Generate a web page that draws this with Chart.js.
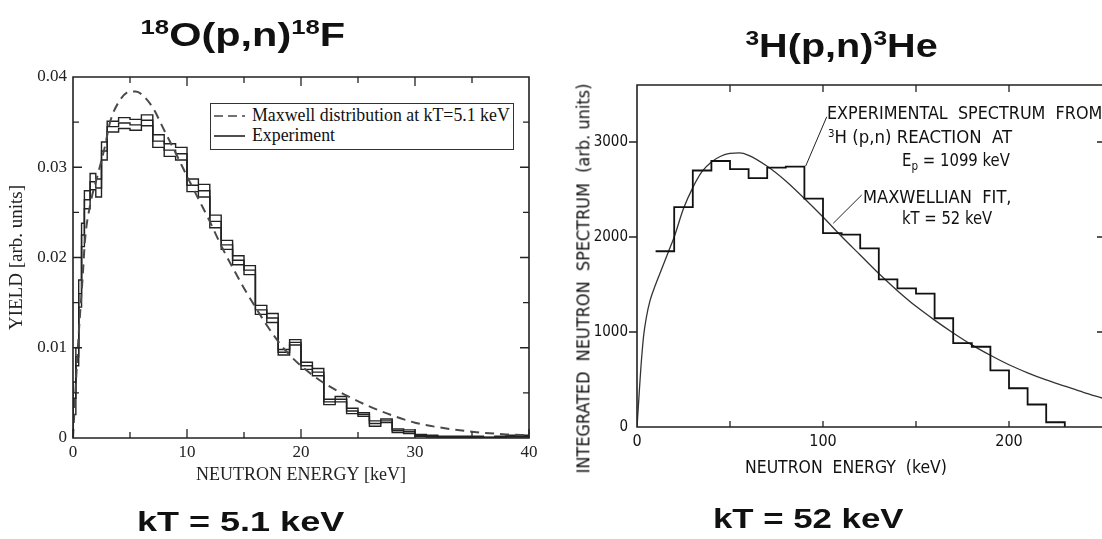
<!DOCTYPE html>
<html>
<head>
<meta charset="utf-8">
<script src="https://cdn.jsdelivr.net/npm/chart.js@4.4.1/dist/chart.umd.min.js"></script>
<style>
html, body { margin: 0; padding: 0; background: #fff; }
body { width: 1102px; height: 539px; position: relative; overflow: hidden; }
canvas { position: absolute; top: 0; }
#o18 { left: 0; }
#h3 { left: 560px; }
.txt { position: absolute; white-space: nowrap; line-height: 1; color: #111; transform-origin: 0 50%; }
.title { font-family: 'Liberation Sans', Arial, sans-serif; font-weight: bold; }
.narrow { font-family: 'DejaVu Sans Condensed', 'Liberation Sans Narrow', sans-serif; }
.serif { font-family: 'Liberation Serif', 'Times New Roman', serif; }
.txt sup { font-size: 62%; vertical-align: 0.55em; line-height: 0; }
.txt sub { font-size: 70%; vertical-align: -0.3em; line-height: 0; }
#legend { position: absolute; left: 210px; top: 103px; width: 302px; height: 45px; border: 1.6px solid #333; background: #fff; }
#legend svg { position: absolute; left: 3px; top: 0; }
</style>
</head>
<body>
<canvas id="o18" width="550" height="539"></canvas>
<canvas id="h3" width="542" height="539"></canvas>

<div class="txt title" style="font-size:34px" data-cx="243" data-cy="34" data-w="205"><sup>18</sup>O(p,n)<sup>18</sup>F</div>
<div class="txt title" style="font-size:34px" data-cx="841" data-cy="45" data-w="192"><sup>3</sup>H(p,n)<sup>3</sup>He</div>
<div class="txt title" style="font-size:28px" data-x="137" data-cy="522" data-w="207">kT = 5.1 keV</div>
<div class="txt title" style="font-size:28px" data-x="713" data-cy="519" data-w="190">kT = 52 keV</div>

<div id="legend">
  <svg width="40" height="45">
    <line x1="0" y1="12" x2="31" y2="12" stroke="#444" stroke-width="1.6" stroke-dasharray="9,5"/>
    <line x1="0" y1="32" x2="31" y2="32" stroke="#222" stroke-width="1.6"/>
  </svg>
</div>
<div class="txt serif" style="font-size:18px" data-x="252" data-cy="115" data-w="258">Maxwell distribution at kT=5.1 keV</div>
<div class="txt serif" style="font-size:18px" data-x="252" data-cy="135" data-w="83">Experiment</div>

<div class="txt narrow" style="font-size:17px" data-x="827" data-cy="113" data-w="275">EXPERIMENTAL&nbsp; SPECTRUM&nbsp; FROM</div>
<div class="txt narrow" style="font-size:17px" data-x="828" data-cy="137" data-w="184"><sup>3</sup>H (p,n) REACTION&nbsp; AT</div>
<div class="txt narrow" style="font-size:17px" data-x="902" data-cy="160" data-w="108">E<sub>p</sub> = 1099 keV</div>
<div class="txt narrow" style="font-size:17px" data-x="863" data-cy="197" data-w="149">MAXWELLIAN&nbsp; FIT,</div>
<div class="txt narrow" style="font-size:17px" data-x="902" data-cy="218" data-w="90">kT = 52 keV</div>
<div class="txt narrow" style="font-size:17px" data-cx="584" data-cy="278" data-w="390" data-rot="-90">INTEGRATED&nbsp; NEUTRON&nbsp; SPECTRUM&nbsp; (arb. units)</div>
<div class="txt narrow" style="font-size:17px" data-x="745" data-cy="467" data-w="202">NEUTRON&nbsp; ENERGY&nbsp; (keV)</div>

<script>
// 18O(p,n)18F : Maxwell curve, kT = 5.1 keV
var maxwellE = [0, 0.25, 0.5, 0.85, 1.05, 1.5, 2.2, 2.8, 3.25, 4, 5, 5.5, 6, 7, 8, 9, 10, 11, 12, 13, 14, 15, 16, 17, 18, 19, 20, 22, 24, 26, 28, 30, 32, 35, 38, 40];
var maxwellYield = [0, 0.0060, 0.0115, 0.0179, 0.0219, 0.0258, 0.0293, 0.0323, 0.0350, 0.0372, 0.0384, 0.0384, 0.0381, 0.0366, 0.0341, 0.0316, 0.0290, 0.0265, 0.0240, 0.0213, 0.0189, 0.0166, 0.0145, 0.0125, 0.0107, 0.0092, 0.0080, 0.0061, 0.0047, 0.0035, 0.0025, 0.0017, 0.0012, 0.0007, 0.0004, 0.0003];

// 18O(p,n)18F : experiment histogram (bin edges, yield, half band)
var expEdges = [0, 0.25, 0.5, 0.75, 1, 1.5, 2, 2.5, 3, 4, 5, 6, 7, 8, 9, 10, 11, 12, 13, 14, 15, 16, 17, 18, 19, 20, 21, 22, 23, 24, 25, 26, 27, 28, 29, 30, 31, 32, 33, 34, 35, 36, 37, 38, 39, 40];
var expYield = [0.0044, 0.0090, 0.0160, 0.0225, 0.0264, 0.0284, 0.0277, 0.0318, 0.0345, 0.0349, 0.0347, 0.0352, 0.0329, 0.0319, 0.0315, 0.0280, 0.0274, 0.0240, 0.0214, 0.0197, 0.0186, 0.0142, 0.0133, 0.0095, 0.0106, 0.0080, 0.0073, 0.0040, 0.0043, 0.0030, 0.0026, 0.0016, 0.0019, 0.0008, 0.0007, 0.0003, 0.0002, 0.0001, 0.0001, 0.0001, 0.0001, 0.00005, 0.0001, 0.0002, 0.0002];
var expErr = [0.0018, 0.0010, 0.0015, 0.0013, 0.0010, 0.0009, 0.0010, 0.0010, 0.0006, 0.0006, 0.0006, 0.0006, 0.0007, 0.0007, 0.0007, 0.0007, 0.0007, 0.0007, 0.0005, 0.0005, 0.0005, 0.0005, 0.0005, 0.0003, 0.0003, 0.0004, 0.0004, 0.0003, 0.0003, 0.0003, 0.0002, 0.0003, 0.0002, 0.0002, 0.0002, 0.0001, 0.0001, 0.0001, 0.0001, 0.0001, 0.0001, 0.00005, 0.0001, 0.0001, 0.0001];

var o18XTicks = [0, 10, 20, 30, 40];
var o18XLabels = ['0', '10', '20', '30', '40'];
var o18YTicks = [0, 0.01, 0.02, 0.03, 0.04];
var o18YLabels = ['0', '0.01', '0.02', '0.03', '0.04'];

// 3H(p,n)3He : experimental spectrum, 10 keV bins
var tritEdges = [10, 20, 30, 40, 50, 60, 70, 80, 90, 100, 110, 120, 130, 140, 150, 160, 170, 180, 190, 200, 210, 220, 230];
var tritCounts = [1850, 2315, 2700, 2800, 2715, 2620, 2730, 2740, 2405, 2040, 2025, 1880, 1555, 1460, 1405, 1145, 883, 845, 597, 408, 237, 50];

// 3H(p,n)3He : Maxwellian fit, kT = 52 keV
var fitE = [0, 1, 2, 3.5, 5, 7, 10, 13, 17, 20, 25, 30, 35, 40, 45, 50, 55, 60, 70, 80, 90, 100, 110, 120, 130, 140, 150, 160, 170, 180, 190, 200, 210, 220, 230, 240, 250];
var fitCounts = [0, 300, 600, 950, 1150, 1330, 1500, 1650, 1850, 2000, 2300, 2520, 2690, 2790, 2850, 2880, 2885, 2860, 2745, 2590, 2405, 2210, 2005, 1810, 1615, 1435, 1270, 1125, 990, 865, 755, 655, 570, 495, 430, 365, 305];

var h3XTicks = [0, 100, 200];
var h3XLabels = ['0', '100', '200'];
var h3YTicks = [0, 1000, 2000, 3000];
var h3YLabels = ['0', '1000', '2000', '3000'];

// leader lines of the annotations (data coordinates)
var expLeader = [[102, 3265], [90.7, 2747]];
var fitLeader = [[120.8, 2442], [105.5, 2144]];

var SERIF = "'Liberation Serif', 'Times New Roman', serif";
var NARROW = "'DejaVu Sans Condensed', 'Liberation Sans Narrow', sans-serif";

/**
 * Pairs two arrays into {x, y} points
 */
function pairs(xs, ys) {
    return xs.map(function (x, i) { return { x: x, y: ys[i] }; });
}

/**
 * Histogram outline: each value held across its bin
 */
function steps(edges, values, offset, startZero, endZero) {
    var pts = [];
    if (startZero) pts.push({ x: edges[0], y: 0 });
    values.forEach(function (v, i) {
        pts.push({ x: edges[i], y: v + (offset ? offset[i] : 0) });
    });
    var last = values.length - 1;
    pts.push({ x: edges[last + 1], y: values[last] + (offset ? offset[last] : 0) });
    if (endZero) pts.push({ x: edges[last + 1], y: 0 });
    return pts;
}

function neg(arr) {
    return arr.map(function (v) { return -v; });
}

// Frame, inward/outward tick marks and leader lines
var frameTicks = {
    id: 'frameTicks',
    afterDatasetsDraw: function (chart, args, opts) {
        var ctx = chart.ctx, a = chart.chartArea, sx = chart.scales.x, sy = chart.scales.y;
        ctx.save();
        ctx.strokeStyle = opts.color;
        ctx.lineWidth = opts.width;
        ctx.lineCap = 'square';
        ctx.beginPath();
        if (opts.sides.indexOf('l') >= 0) { ctx.moveTo(a.left, a.top); ctx.lineTo(a.left, a.bottom); }
        if (opts.sides.indexOf('b') >= 0) { ctx.moveTo(a.left, a.bottom); ctx.lineTo(a.right, a.bottom); }
        if (opts.sides.indexOf('t') >= 0) { ctx.moveTo(a.left, a.top); ctx.lineTo(a.right, a.top); }
        if (opts.sides.indexOf('r') >= 0) { ctx.moveTo(a.right, a.top); ctx.lineTo(a.right, a.bottom); }
        ctx.stroke();

        ctx.lineCap = 'butt';
        ctx.lineWidth = opts.tickWidth;
        ctx.beginPath();
        (opts.ticks || []).forEach(function (t) {
            t.values.forEach(function (v) {
                if (t.side === 'bottom' || t.side === 'top') {
                    var px = sx.getPixelForValue(v);
                    var y0 = t.side === 'bottom' ? a.bottom : a.top;
                    var dir = t.side === 'bottom' ? -1 : 1;
                    ctx.moveTo(px, y0);
                    ctx.lineTo(px, y0 + dir * t.len);
                } else {
                    var py = sy.getPixelForValue(v);
                    var x0 = t.side === 'left' ? a.left : a.right;
                    var d = t.side === 'left' ? 1 : -1;
                    ctx.moveTo(x0, py);
                    ctx.lineTo(x0 + d * t.len, py);
                }
            });
        });
        ctx.stroke();

        ctx.lineWidth = 1;
        ctx.beginPath();
        (opts.leaders || []).forEach(function (l) {
            ctx.moveTo(sx.getPixelForValue(l[0][0]), sy.getPixelForValue(l[0][1]));
            ctx.lineTo(sx.getPixelForValue(l[1][0]), sy.getPixelForValue(l[1][1]));
        });
        ctx.stroke();
        ctx.restore();
    }
};

function fixedTicks(values) {
    return function (scale) {
        scale.ticks = values.map(function (v) { return { value: v }; });
    };
}

// Left chart: 18O(p,n)18F
new Chart(document.getElementById('o18').getContext('2d'), {
    type: 'line',
    data: {
        datasets: [
            {
                data: pairs(maxwellE, maxwellYield),
                borderColor: '#4a4a4a',
                borderWidth: 2,
                borderDash: [9, 6],
                cubicInterpolationMode: 'monotone',
                pointRadius: 0
            },
            {
                data: steps(expEdges, expYield, expErr, true, false),
                borderColor: '#222',
                borderWidth: 1.4,
                stepped: 'before',
                pointRadius: 0
            },
            {
                data: steps(expEdges, expYield, null, true, false),
                borderColor: '#222',
                borderWidth: 1.4,
                stepped: 'before',
                pointRadius: 0
            },
            {
                data: steps(expEdges, expYield, neg(expErr), true, false),
                borderColor: '#222',
                borderWidth: 1.4,
                stepped: 'before',
                pointRadius: 0
            }
        ]
    },
    options: {
        responsive: false,
        animation: false,
        layout: { padding: { left: 0, top: 77, right: 21, bottom: 0 } },
        plugins: {
            legend: { display: false },
            tooltip: { enabled: false },
            frameTicks: {
                color: '#222', width: 1.6, tickWidth: 1.3, sides: 'lbtr',
                ticks: [
                    { side: 'bottom', values: [0, 10, 20, 30, 40], len: 9 },
                    { side: 'bottom', values: [5, 15, 25, 35], len: 6 },
                    { side: 'top', values: [10, 20, 30], len: 9 },
                    { side: 'top', values: [5, 15, 25, 35], len: 6 },
                    { side: 'left', values: [0.01, 0.02, 0.03], len: 9 },
                    { side: 'left', values: [0.005, 0.015, 0.025, 0.035], len: 6 },
                    { side: 'right', values: [0.01, 0.02, 0.03], len: 9 },
                    { side: 'right', values: [0.005, 0.015, 0.025, 0.035], len: 6 }
                ]
            }
        },
        scales: {
            x: {
                type: 'linear', min: 0, max: 40,
                grid: { display: false, drawTicks: false },
                border: { display: false },
                afterBuildTicks: fixedTicks(o18XTicks),
                afterFit: function (s) { s.height = 101; },
                ticks: {
                    autoSkip: false, maxRotation: 0, padding: 4, color: '#222',
                    font: { family: SERIF, size: 17 },
                    callback: function (v, i) { return o18XLabels[i]; }
                },
                title: {
                    display: true, text: 'NEUTRON ENERGY [keV]', color: '#222',
                    font: { family: SERIF, size: 18 },
                    padding: { top: 0, bottom: 53 }
                }
            },
            y: {
                type: 'linear', min: 0, max: 0.04,
                grid: { display: false, drawTicks: false },
                border: { display: false },
                afterBuildTicks: fixedTicks(o18YTicks),
                afterFit: function (s) { s.width = 73; },
                ticks: {
                    autoSkip: false, padding: 6, color: '#222',
                    font: { family: SERIF, size: 17 },
                    callback: function (v, i) { return o18YLabels[i]; }
                },
                title: {
                    display: true, text: 'YIELD [arb. units]', color: '#222',
                    font: { family: SERIF, size: 19 },
                    padding: { top: 6, bottom: 0 }
                }
            }
        }
    },
    plugins: [frameTicks]
});

// Right chart: 3H(p,n)3He
new Chart(document.getElementById('h3').getContext('2d'), {
    type: 'line',
    data: {
        datasets: [
            {
                data: steps(tritEdges, tritCounts, null, false, true),
                borderColor: '#111',
                borderWidth: 1.8,
                stepped: 'before',
                pointRadius: 0
            },
            {
                data: pairs(fitE, fitCounts),
                borderColor: '#333',
                borderWidth: 1.3,
                cubicInterpolationMode: 'monotone',
                pointRadius: 0
            }
        ]
    },
    options: {
        responsive: false,
        animation: false,
        layout: { padding: { left: 0, top: 85, right: 0, bottom: 0 } },
        plugins: {
            legend: { display: false },
            tooltip: { enabled: false },
            frameTicks: {
                color: '#222', width: 1.6, tickWidth: 1.3, sides: 'lbt',
                ticks: [
                    { side: 'bottom', values: [50, 100, 150, 200], len: 6 },
                    { side: 'top', values: [50, 100, 150, 200], len: 7 },
                    { side: 'left', values: [1000, 2000, 3000], len: -8 },
                    { side: 'right', values: [1000, 2000, 3000], len: 5 }
                ],
                leaders: [expLeader, fitLeader]
            }
        },
        scales: {
            x: {
                type: 'linear', min: 0, max: 250,
                grid: { display: false, drawTicks: false },
                border: { display: false },
                afterBuildTicks: fixedTicks(h3XTicks),
                afterFit: function (s) { s.height = 112; },
                ticks: {
                    autoSkip: false, maxRotation: 0, padding: 5, color: '#111',
                    font: { family: NARROW, size: 16 },
                    callback: function (v, i) { return h3XLabels[i]; }
                }
            },
            y: {
                type: 'linear', min: 0, max: 3600,
                grid: { display: false, drawTicks: false },
                border: { display: false },
                afterBuildTicks: fixedTicks(h3YTicks),
                afterFit: function (s) { s.width = 77; },
                ticks: {
                    autoSkip: false, padding: 9, color: '#111',
                    font: { family: NARROW, size: 15 },
                    callback: function (v, i) { return h3YLabels[i]; }
                }
            }
        }
    },
    plugins: [frameTicks]
});

/**
 * Place the html texts: left or centre, vertical centre, target width
 */
function placeText() {
    document.querySelectorAll('.txt').forEach(function (el) {
        var w = +el.dataset.w, cy = +el.dataset.cy;
        var nat = el.offsetWidth, h = el.offsetHeight;
        var left = el.dataset.cx ? +el.dataset.cx - nat / 2 : +el.dataset.x;
        if (el.dataset.cx) el.style.transformOrigin = '50% 50%';
        el.style.left = left + 'px';
        el.style.top = (cy - h / 2) + 'px';
        var rot = el.dataset.rot ? 'rotate(' + el.dataset.rot + 'deg) ' : '';
        el.style.transform = rot + 'scaleX(' + (w / nat).toFixed(3) + ')';
    });
}
placeText();
</script>
</body>
</html>
